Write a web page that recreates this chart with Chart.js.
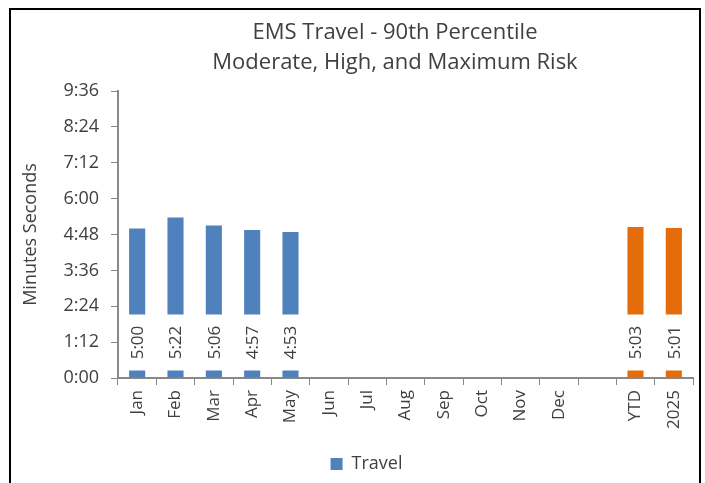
<!DOCTYPE html>
<html>
<head>
<meta charset="utf-8">
<script src="https://cdn.jsdelivr.net/npm/chart.js@4"></script>
<style>
  body { margin: 0; background: #fff; }
  #wrap { position: relative; width: 705px; height: 483px; }
  #frame { position: absolute; left: 9px; top: 8px; width: 688px; height: 500px; border: 2px solid #000; pointer-events: none; }
</style>
</head>
<body>
<div id="wrap">
  <canvas id="travelChart" width="705" height="483"></canvas>
  <div id="frame"></div>
</div>
<script>
// categories (blank slot between Dec and YTD)
const categories = ["Jan", "Feb", "Mar", "Apr", "May", "Jun", "Jul", "Aug", "Sep", "Oct", "Nov", "Dec", "", "YTD", "2025"];
// travel time in seconds (5:00 = 300)
const travelSeconds = [300, 322, 306, 297, 293, null, null, null, null, null, null, null, null, 303, 301];
const barColors = ["#4F81BD", "#4F81BD", "#4F81BD", "#4F81BD", "#4F81BD", "#4F81BD", "#4F81BD", "#4F81BD",
  "#4F81BD", "#4F81BD", "#4F81BD", "#4F81BD", "#4F81BD", "#E46C0A", "#E46C0A"];
const titleLines = ["EMS Travel - 90th Percentile", "Moderate, High, and Maximum Risk"];
const yMax = 576;   // 9:36
const yStep = 72;   // 1:12

const FONT = "'Open Sans', 'Noto Sans', sans-serif";
const TXT = "#404040";

function fmt(sec) {
  const m = Math.floor(sec / 60);
  const s = Math.round(sec % 60);
  return m + ":" + (s < 10 ? "0" : "") + s;
}

/* title drawn by hand so it can sit where Excel put it */
const titlePlugin = {
  id: "twoLineTitle",
  afterDraw(chart) {
    const ctx = chart.ctx;
    ctx.save();
    ctx.fillStyle = TXT;
    ctx.font = "22px " + FONT;
    ctx.textAlign = "center";
    ctx.textBaseline = "middle";
    ctx.fillText(titleLines[0], 395, 33);
    ctx.fillText(titleLines[1], 395, 63);
    ctx.restore();
  }
};

/* legend sits a bit right of center in the original */
const legendShift = {
  id: "legendShift",
  afterLayout(chart) {
    if (!chart.legend) return;
    chart.legend.left += 20;
    chart.legend.right += 20;
  }
};

/* value labels: rotated, inside base, on a white box */
const labelPlugin = {
  id: "baseLabels",
  afterDatasetsDraw(chart) {
    const ctx = chart.ctx;
    const meta = chart.getDatasetMeta(0);
    ctx.save();
    ctx.font = "17px " + FONT;
    meta.data.forEach((bar, i) => {
      const v = travelSeconds[i];
      if (v == null) return;
      const txt = fmt(v);
      const bottom = bar.base - 7;
      const top = bottom - 56;
      ctx.fillStyle = "#fff";
      ctx.fillRect(bar.x - bar.width / 2 - 1, top, bar.width + 2, bottom - top);
      ctx.save();
      ctx.translate(bar.x, (top + bottom) / 2);
      ctx.rotate(-Math.PI / 2);
      ctx.fillStyle = TXT;
      ctx.textAlign = "center";
      ctx.textBaseline = "middle";
      ctx.fillText(txt, 0, 1);
      ctx.restore();
    });
    ctx.restore();
  }
};

new Chart(document.getElementById("travelChart"), {
  type: "bar",
  data: {
    labels: categories,
    datasets: [{
      label: "Travel",
      data: travelSeconds,
      backgroundColor: barColors,
      barPercentage: 0.42,
      categoryPercentage: 1.0
    }]
  },
  options: {
    responsive: false,
    animation: false,
    layout: { padding: { top: 91, right: 12, left: 0, bottom: 0 } },
    plugins: {
      title: { display: false },
      tooltip: { enabled: false },
      legend: {
        position: "bottom",
        labels: {
          font: { family: FONT, size: 18 },
          color: TXT,
          boxWidth: 12,
          boxHeight: 12,
          padding: 10,
          generateLabels: () => [{ text: "Travel", fillStyle: "#4F81BD", strokeStyle: "#4F81BD", lineWidth: 0, fontColor: TXT }]
        }
      }
    },
    scales: {
      x: {
        offset: true,
        grid: { display: true, drawOnChartArea: false, offset: true, color: "#888", tickLength: 7 },
        border: { color: "#888", width: 2 },
        ticks: {
          font: { family: FONT, size: 17 },
          color: TXT,
          maxRotation: 90,
          minRotation: 90,
          autoSkip: false,
          padding: 5
        },
        afterFit(scale) { scale.height = 67; }
      },
      y: {
        min: 0,
        max: yMax,
        grid: { drawOnChartArea: false, color: "#888", tickLength: 7 },
        border: { color: "#888", width: 2 },
        ticks: {
          stepSize: yStep,
          font: { family: FONT, size: 18 },
          color: TXT,
          padding: 12,
          callback: (v) => fmt(v)
        },
        title: {
          display: true,
          text: "Minutes Seconds",
          font: { family: FONT, size: 18 },
          color: TXT,
          padding: { top: 20, bottom: 0 }
        },
        afterFit(scale) { scale.width = 118; }
      }
    }
  },
  plugins: [titlePlugin, labelPlugin, legendShift]
});
</script>
</body>
</html>
